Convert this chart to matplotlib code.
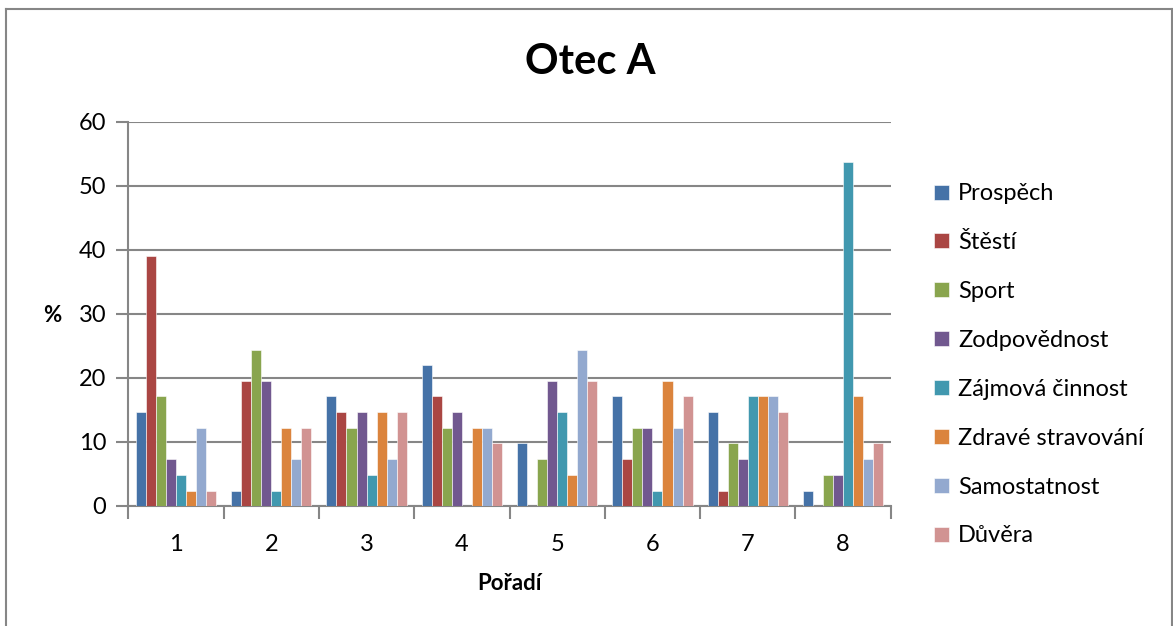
import matplotlib
matplotlib.use("Agg")
import matplotlib.pyplot as plt
from matplotlib.lines import Line2D
import numpy as np

categories = ["1", "2", "3", "4", "5", "6", "7", "8"]
series_names = ["Prospěch", "Štěstí", "Sport", "Zodpovědnost",
                "Zájmová činnost", "Zdravé stravování", "Samostatnost", "Důvěra"]
prospech = [14.6, 2.4, 17.1, 22.0, 9.8, 17.1, 14.6, 2.4]
stesti = [39.0, 19.5, 14.6, 17.1, 0.0, 7.3, 2.4, 0.0]
sport = [17.1, 24.4, 12.2, 12.2, 7.3, 12.2, 9.8, 4.9]
zodpovednost = [7.3, 19.5, 14.6, 14.6, 19.5, 12.2, 7.3, 4.9]
zajmova = [4.9, 2.4, 4.9, 0.0, 14.6, 2.4, 17.1, 53.7]
zdrave = [2.4, 12.2, 14.6, 12.2, 4.9, 19.5, 17.1, 17.1]
samostatnost = [12.2, 7.3, 7.3, 12.2, 24.4, 12.2, 17.1, 7.3]
duvera = [2.4, 12.2, 14.6, 9.8, 19.5, 17.1, 14.6, 9.8]
series_values = [prospech, stesti, sport, zodpovednost, zajmova, zdrave, samostatnost, duvera]
colors = ["#4572A7", "#AA4643", "#89A54E", "#71588F", "#4198AF", "#DB843D", "#93A9CF", "#D19392"]
y_ticks = [0, 10, 20, 30, 40, 50, 60]

FONT = "Lato"
W, H = 1173, 626
fig = plt.figure(figsize=(W / 100, H / 100), dpi=100)
ax = fig.add_axes([128.3 / W, 1 - 506 / H, (890.7 - 128.3) / W, (506 - 121.7) / H])

n = len(series_names)
bw = 1 / 9.5
x = np.arange(len(categories))
handles = []
for i, (name, vals, c) in enumerate(zip(series_names, series_values, colors)):
    b = ax.bar(x + (i - (n - 1) / 2) * bw, vals, width=bw, color=c,
               edgecolor="white", linewidth=0.4, label=name, zorder=3)
    handles.append(b)

ax.set_xlim(-0.5, len(categories) - 0.5)
ax.set_ylim(0, 60)
ax.set_yticks(y_ticks)
ax.set_yticklabels([str(t) for t in y_ticks], fontsize=17, family=FONT)
ax.set_xticks(x)
ax.set_xticklabels(categories, fontsize=17, family=FONT)
ax.tick_params(axis="x", length=0, pad=20)
ax.set_xticks(np.arange(-0.5, len(categories)), minor=True)
ax.tick_params(axis="x", which="minor", length=9, width=1.5, color="#868686", direction="out")
ax.tick_params(axis="y", length=9, width=1.5, color="#868686", direction="out", pad=7)
ax.grid(axis="y", color="#868686", linewidth=1.5, zorder=0)
for s in ["top", "right"]:
    ax.spines[s].set_visible(False)
for s in ["left", "bottom"]:
    ax.spines[s].set_color("#868686")
    ax.spines[s].set_linewidth(1.5)

ax.set_xlabel("Pořadí", fontsize=16, fontweight="bold", family=FONT, labelpad=13)
fig.text(52 / W, 1 - 315 / H, "%", fontsize=16, fontweight="bold", family=FONT,
         ha="center", va="center")
fig.text(590 / W, 1 - 62 / H, "Otec A", fontsize=30, fontweight="bold", family=FONT,
         ha="center", va="center")

leg = fig.legend(handles=handles, labels=series_names, loc="upper left",
                 bbox_to_anchor=(925 / W, 1 - 174 / H), frameon=False,
                 prop={"family": FONT, "size": 17}, handlelength=0.6, handleheight=0.6,
                 handletextpad=0.4, labelspacing=1.18, borderaxespad=0)

# chart border
bc = "#868686"
fig.add_artist(Line2D([6 / W, 6 / W], [0, 1 - 9 / H], transform=fig.transFigure, color=bc, lw=1.5))
fig.add_artist(Line2D([6 / W, 1171.5 / W], [1 - 9 / H, 1 - 9 / H], transform=fig.transFigure, color=bc, lw=1.5))
fig.add_artist(Line2D([1171.5 / W, 1171.5 / W], [0, 1 - 9 / H], transform=fig.transFigure, color=bc, lw=1.5))

fig.savefig("out.png", dpi=100)
